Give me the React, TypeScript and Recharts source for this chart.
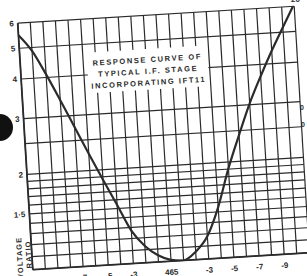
import { CartesianGrid, Line, LineChart, ReferenceArea, XAxis, YAxis } from "recharts";

// kc/s off the 465 kc/s centre, and the voltage ratio read at each
const freqOffsets = [-11, -10, -9, -8, -7, -6, -5, -4, -3, -2, -1, 0, 1, 2, 3, 4, 5, 6, 7, 8, 9, 10, 11];
const voltageRatio = [5.5, 4.88, 4.09, 3.37, 2.76, 2.26, 1.86, 1.54, 1.27, 1.13, 1.05, 1.01, 1.0, 1.06, 1.18, 1.45, 1.91, 2.42, 3.03, 3.67, 4.39, 5.18, 6.1];

const ratioTicks = [1.5, 2, 3, 4, 5, 6];
const freqTicks = [-9, -7, -5, -3, 0, 3, 5, 7, 9];
const ratioGrid = [1, 1.1, 1.2, 1.3, 1.4, 1.5, 1.6, 1.7, 1.8, 1.9, 2, 2.5, 3, 4, 5, 6];
const freqGrid = freqOffsets;
const titleLines = ["RESPONSE CURVE OF", "TYPICAL I.F. STAGE", "INCORPORATING IFT11"];

const data = freqOffsets.map((f, i) => ({ freq: f, ratio: voltageRatio[i] }));

const ink = "#2b2b2b";
const font = "'Liberation Sans', Arial, sans-serif";
const tickStyle = { fill: ink, fontSize: 8, fontWeight: 700, fontFamily: font };

function TitleBox(props: any) {
  const vb = props.viewBox;
  if (!vb) return null;
  const cx = vb.x + vb.width / 2;
  const top = vb.y + vb.height / 2 - 10;
  return (
    <text
      x={cx}
      y={top}
      textAnchor="middle"
      fill={ink}
      fontSize={7.5}
      fontWeight={700}
      fontFamily={font}
      letterSpacing={1.6}
    >
      {titleLines.map((t, i) => (
        <tspan key={t} x={cx} dy={i === 0 ? 3 : 11.5}>
          {t}
        </tspan>
      ))}
    </text>
  );
}

const sideText = {
  position: "absolute" as const,
  color: ink,
  fontFamily: font,
  fontWeight: 700,
  lineHeight: 1,
  whiteSpace: "nowrap" as const,
};

export default function App() {
  return (
    <div
      style={{
        position: "fixed",
        left: 0,
        top: 0,
        width: 307,
        height: 276,
        overflow: "hidden",
        background: "#fff",
      }}
    >
      <div
        style={{
          position: "absolute",
          left: 0,
          top: 0,
          width: 307,
          height: 276,
          transform: "rotate(-3.5deg)",
          transformOrigin: "163.5px 138px",
        }}
      >
        <LineChart width={307} height={276} data={data} margin={{ top: 14.5, right: 5, bottom: 0, left: 0 }}>
          <CartesianGrid
            horizontalValues={ratioGrid}
            verticalValues={freqGrid}
            stroke={ink}
            strokeWidth={1.2}
          />
          <XAxis
            dataKey="freq"
            type="number"
            domain={[-11, 11]}
            ticks={freqTicks}
            tickFormatter={(v: number) => (v === 0 ? "465" : `-${Math.abs(v)}`)}
            height={14.5}
            tick={tickStyle}
            tickLine={false}
            tickSize={0}
            tickMargin={8}
            axisLine={{ stroke: ink, strokeWidth: 1.8 }}
            interval={0}
          />
          <YAxis
            type="number"
            scale="log"
            domain={[1, 6]}
            allowDataOverflow
            ticks={ratioTicks}
            tickFormatter={(v: number) => (v === 1.5 ? "1·5" : String(v))}
            width={25}
            tick={tickStyle}
            tickLine={false}
            tickSize={0}
            tickMargin={4}
            axisLine={{ stroke: ink, strokeWidth: 1.8 }}
            interval={0}
          />
          <ReferenceArea
            x1={-5.7}
            x2={3.9}
            y1={3.5}
            y2={4.7}
            fill="#fff"
            fillOpacity={1}
            stroke="none"
            label={TitleBox}
          />
          <Line
            type="monotone"
            dataKey="ratio"
            stroke={ink}
            strokeWidth={2.2}
            dot={false}
            isAnimationActive={false}
          />
        </LineChart>
        <div
          style={{
            ...sideText,
            left: 13,
            top: 249,
            fontSize: 7.5,
            letterSpacing: 1,
            transform: "translate(-50%, -50%) rotate(-90deg)",
          }}
        >
          VOLTAGE
        </div>
        <div
          style={{
            ...sideText,
            left: 21.5,
            top: 246,
            fontSize: 7.5,
            letterSpacing: 1,
            transform: "translate(-50%, -50%) rotate(-90deg)",
          }}
        >
          RATIO
        </div>
      </div>
      <div style={{ ...sideText, left: 291, top: -4, fontSize: 8 }}>20</div>
      <div style={{ ...sideText, left: 300, top: 104, fontSize: 7 }}>0</div>
      <div style={{ ...sideText, left: 301, top: 121, fontSize: 7 }}>0</div>
      <div
        style={{
          position: "absolute",
          left: -13,
          top: 114,
          width: 26,
          height: 27,
          borderRadius: "50%",
          background: "#111",
        }}
      />
    </div>
  );
}
